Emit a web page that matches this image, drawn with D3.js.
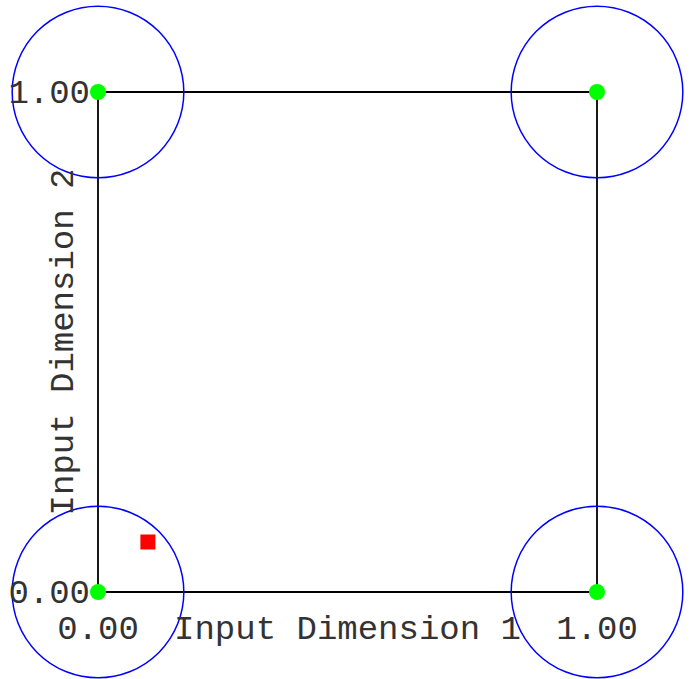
<!DOCTYPE html>
<html>
<head>
<meta charset="utf-8">
<script src="https://cdn.jsdelivr.net/npm/d3@7"></script>
<style>
  html, body { margin: 0; padding: 0; background: #fff; }
  text { font-family: "Liberation Mono", "DejaVu Sans Mono", monospace; fill: #333; }
</style>
</head>
<body>
<svg id="chart" width="693" height="679"></svg>
<script>
// Corner points of the input square (XOR-like inputs)
const cornerX = [0, 1, 1, 0];
const cornerY = [0, 0, 1, 1];
// Query point
const pointX = [0.1];
const pointY = [0.1];
// Radius of circles around each corner (data units)
const circleRadius = 0.172;
// Tick labels
const xTicks = [0, 1];
const yTicks = [0, 1];
const xLabel = "Input Dimension 1";
const yLabel = "Input Dimension 2";

const svg = d3.select("#chart");
const x = d3.scaleLinear().domain([0, 1]).range([98, 597]);
const y = d3.scaleLinear().domain([0, 1]).range([592, 92]);
const fmt = d3.format(".2f");

const corners = cornerX.map((d, i) => ({ x: d, y: cornerY[i] }));

// Square outline connecting the corners
svg.append("path")
    .datum(corners.concat([corners[0]]))
    .attr("fill", "none")
    .attr("stroke", "#000")
    .attr("stroke-width", 1.8)
    .attr("d", d3.line().x(d => x(d.x)).y(d => y(d.y)));

// Circles around each corner
svg.append("g")
    .selectAll("circle")
    .data(corners)
    .join("circle")
    .attr("cx", d => x(d.x))
    .attr("cy", d => y(d.y))
    .attr("r", x(circleRadius) - x(0))
    .attr("fill", "none")
    .attr("stroke", "#0000ff")
    .attr("stroke-width", 1.5);

// Green corner markers
svg.append("g")
    .selectAll("circle")
    .data(corners)
    .join("circle")
    .attr("cx", d => x(d.x))
    .attr("cy", d => y(d.y))
    .attr("r", 8)
    .attr("fill", "#00ff00");

// Red query point
const sq = 15;
svg.append("g")
    .selectAll("rect")
    .data(pointX.map((d, i) => ({ x: d, y: pointY[i] })))
    .join("rect")
    .attr("x", d => x(d.x) - sq / 2)
    .attr("y", d => y(d.y) - sq / 2)
    .attr("width", sq)
    .attr("height", sq)
    .attr("fill", "#ff0000");

// Tick labels
svg.append("g")
    .selectAll("text")
    .data(yTicks)
    .join("text")
    .attr("x", x(0) - 8)
    .attr("y", d => y(d) + 11)
    .attr("text-anchor", "end")
    .style("font-size", "34px")
    .text(d => fmt(d));

svg.append("g")
    .selectAll("text")
    .data(xTicks)
    .join("text")
    .attr("x", d => x(d))
    .attr("y", 639)
    .attr("text-anchor", "middle")
    .style("font-size", "34px")
    .text(d => fmt(d));

// Axis labels
svg.append("text")
    .attr("x", (x(0) + x(1)) / 2)
    .attr("y", 639)
    .attr("text-anchor", "middle")
    .style("font-size", "34px")
    .text(xLabel);

svg.append("text")
    .attr("transform", `translate(73, ${(y(0) + y(1)) / 2}) rotate(-90)`)
    .attr("text-anchor", "middle")
    .style("font-size", "34px")
    .text(yLabel);
</script>
</body>
</html>
